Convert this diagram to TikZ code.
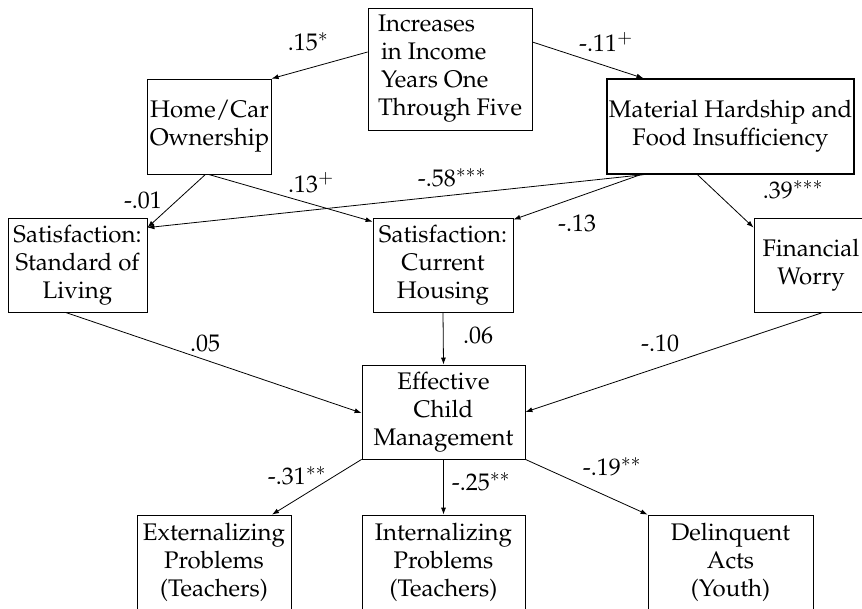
\documentclass[tikz,border=0pt]{standalone}
\usepackage[T1]{fontenc}
\usepackage{mathpazo}
\usetikzlibrary{arrows.meta}
\tikzset{
    box/.style={draw, line width=0.8pt, inner sep=2pt, minimum height=94pt, align=center},
    thickbox/.style={box, line width=1.4pt},
    link/.style={-{Latex[length=7pt,width=5pt]}, line width=0.8pt},
    coef/.style={inner sep=0pt},
}
\begin{document}
\begin{tikzpicture}[x=1pt, y=-1pt, font=\fontsize{24}{28}\selectfont]
    \clip (0,0) rectangle (862,608);

    % variables
    \node[box, minimum width=164pt, minimum height=122pt, align=left] (inc) at (450,69)
        {Increases\\\hspace{3pt}in Income\\\hspace{3pt}Years One\\Through Five};
    \node[box, minimum width=123pt, minimum height=95pt] (home) at (209.5,126.5) {Home/Car\\Ownership};
    \node[thickbox, minimum width=247pt, minimum height=95pt] (mat) at (730.5,126.5)
        {Material Hardship and\\Food Insufficiency};
    \node[box, minimum width=139pt] (satstd) at (77.5,265) {Satisfaction:\\Standard of\\Living};
    \node[box, minimum width=140pt] (sathous) at (443,265) {Satisfaction:\\Current\\Housing};
    \node[box, minimum width=114pt] (worry) at (811,265) {Financial\\Worry};
    \node[box, minimum width=163pt] (eff) at (443.5,412) {Effective\\Child\\Management};
    \node[box, minimum width=154pt] (ext) at (214,562) {Externalizing\\Problems\\(Teachers)};
    \node[box, minimum width=163pt] (int) at (443.5,562) {Internalizing\\Problems\\(Teachers)};
    \node[box, minimum width=165pt] (del) at (730.5,562) {Delinquent\\Acts\\(Youth)};

    % paths
    \draw[link] ([yshift=17pt]inc.west) -- (home.north east);
    \draw[link] ([yshift=27pt]inc.east) -- ([xshift=-87pt]mat.north);
    \draw[link] ([xshift=-4pt]home.south) -- ([yshift=-10pt]satstd.north east);
    \draw[link] ([xshift=-1pt]home.south) -- ([yshift=-4pt]sathous.north west);
    \draw[link] ([xshift=-87pt]mat.south) -- ([yshift=-10pt]satstd.north east);
    \draw[link] ([xshift=-90pt]mat.south) -- ([yshift=-2pt]sathous.north east);
    \draw[link] ([xshift=-33pt]mat.south) -- ([yshift=-10pt]worry.north west);
    \draw[link] ([xshift=-12pt]satstd.south) -- ([yshift=-1pt]eff.west);
    \draw[link] (sathous.south) -- (eff.north);
    \draw[link] ([xshift=12pt]worry.south) -- (eff.east);
    \draw[link] (eff.south west) -- ([xshift=58pt]ext.north);
    \draw[link] (eff.south) -- (int.north);
    \draw[link] (eff.south east) -- (del.north west);

    % coefficients
    \node[coef] (c1) at (308,42) {.15$^{*}$};
    \node[coef] (c2) at (606,42) {-.11$^{+}$};
    \node[coef] (c3) at (143,200) {-.01};
    \node[coef] (c4) at (311,183) {.13$^{+}$};
    \node[coef] (c5) at (452,178) {-.58$^{***}$};
    \node[coef] (c6) at (577,223) {-.13};
    \node[coef] (c7) at (793,190) {.39$^{***}$};
    \node[coef] (c8) at (205,343) {.05};
    \node[coef] (c9) at (478,335) {.06};
    \node[coef] (c10) at (660,343) {-.10};
    \node[coef] (c11) at (297,476) {-.31$^{**}$};
    \node[coef] (c12) at (481,482) {-.25$^{**}$};
    \node[coef] (c13) at (612,467) {-.19$^{**}$};
\end{tikzpicture}
\end{document}
